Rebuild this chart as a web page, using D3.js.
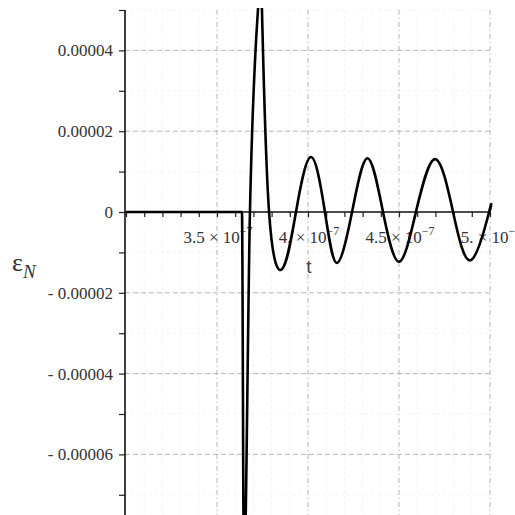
<!DOCTYPE html>
<html>
<head>
<meta charset="utf-8">
<script src="https://cdn.jsdelivr.net/npm/d3@7"></script>
<style>
  body { margin: 0; background: #fff; }
  svg { display: block; }
</style>
</head>
<body>
<svg></svg>
<script>
// time values (seconds) and strain values
let tValues = [3.0e-7, 3.637e-7, 3.648e-7, 3.681e-7, 3.725e-7, 3.736e-7, 3.747e-7, 3.786e-7,
  3.863e-7, 3.934e-7, 4.016e-7, 4.093e-7, 4.159e-7, 4.242e-7, 4.327e-7, 4.412e-7,
  4.500e-7, 4.593e-7, 4.698e-7, 4.797e-7, 4.896e-7, 4.995e-7, 5.0e-7]
let epsValues = [0, 0, -0.00009, 0, 0.00005, 0.000056, 0.00005, 0,
  -0.0000138, 0, 0.0000136, 0, -0.0000126, 0, 0.0000133, 0,
  -0.0000123, 0, 0.0000131, 0, -0.0000119, 0, 0.0000004]

// tick values and labels
let xTicks = [3.5e-7, 4.0e-7, 4.5e-7, 5.0e-7]
let xTickMantissa = ["3.5", "4.", "4.5", "5."]
let yTicks = [0.00004, 0.00002, 0, -0.00002, -0.00004, -0.00006]
let yTickLabels = ["0.00004", "0.00002", "0", "- 0.00002", "- 0.00004", "- 0.00006"]

let width = 515
let height = 515
let serif = "'Liberation Serif', 'Times New Roman', serif"

let svg = d3.select("svg")
  .attr("width", width)
  .attr("height", height)

let xScale = d3.scaleLinear()
  .domain([3e-7, 5e-7])
  .range([126, 490])

let yScale = d3.scaleLinear()
  .domain([-0.000075, 0.00005])
  .range([515, 10])

let axisX = 125
let axisY = yScale(0)

// minor grid (very faint)
let xMinor = d3.range(31, 51).map(d => d * 1e-8)
let yMinor = d3.range(-7, 6).map(d => d * 0.00001)

svg.append("g")
  .selectAll("line")
  .data(xMinor)
  .enter()
  .append("line")
  .attr("x1", d => xScale(d))
  .attr("x2", d => xScale(d))
  .attr("y1", 10)
  .attr("y2", height)
  .attr("stroke", "#f3f3f3")
  .attr("stroke-dasharray", "3,3")

svg.append("g")
  .selectAll("line")
  .data(yMinor)
  .enter()
  .append("line")
  .attr("x1", axisX)
  .attr("x2", 491)
  .attr("y1", d => yScale(d))
  .attr("y2", d => yScale(d))
  .attr("stroke", "#f3f3f3")
  .attr("stroke-dasharray", "3,3")

// major grid
svg.append("g")
  .selectAll("line")
  .data(xTicks)
  .enter()
  .append("line")
  .attr("x1", d => xScale(d))
  .attr("x2", d => xScale(d))
  .attr("y1", 10)
  .attr("y2", height)
  .attr("stroke", "#b8b8b8")
  .attr("stroke-dasharray", "5,3,1,3")

svg.append("g")
  .selectAll("line")
  .data(yTicks.filter(d => d != 0))
  .enter()
  .append("line")
  .attr("x1", axisX)
  .attr("x2", 491)
  .attr("y1", d => yScale(d))
  .attr("y2", d => yScale(d))
  .attr("stroke", "#b8b8b8")
  .attr("stroke-dasharray", "5,3")

// x axis
let xAxis = d3.axisBottom(xScale)
  .tickValues(xMinor.concat([3e-7]))
  .tickSize(5)
  .tickFormat("")

let gx = svg.append("g")
  .attr("transform", "translate(0," + axisY + ")")
  .call(xAxis)
gx.select(".domain").remove()
gx.selectAll("line").attr("stroke", "#222").attr("stroke-width", 1.2)

svg.append("line")
  .attr("x1", axisX)
  .attr("x2", 491)
  .attr("y1", axisY)
  .attr("y2", axisY)
  .attr("stroke", "#111")
  .attr("stroke-width", 1.6)

// y axis
let yAxis = d3.axisLeft(yScale)
  .tickValues(yMinor)
  .tickSize(6)
  .tickFormat("")

let gy = svg.append("g")
  .attr("transform", "translate(" + axisX + ",0)")
  .call(yAxis)
gy.select(".domain").remove()
gy.selectAll("line").attr("stroke", "#222").attr("stroke-width", 1.2)

svg.append("line")
  .attr("x1", axisX)
  .attr("x2", axisX)
  .attr("y1", 10)
  .attr("y2", height)
  .attr("stroke", "#111")
  .attr("stroke-width", 1.6)

// y tick labels
svg.append("g")
  .selectAll("text")
  .data(yTicks)
  .enter()
  .append("text")
  .attr("x", 113)
  .attr("y", d => yScale(d) + 6)
  .attr("text-anchor", "end")
  .style("font-family", serif)
  .style("font-size", "17px")
  .attr("fill", "#333")
  .text((d, i) => yTickLabels[i])

// x tick labels with superscript exponent
let xl = svg.append("g")
  .selectAll("text")
  .data(xTicks)
  .enter()
  .append("text")
  .attr("x", d => xScale(d) + 1)
  .attr("y", axisY + 31)
  .attr("text-anchor", "middle")
  .style("font-family", serif)
  .style("font-size", "17px")
  .attr("fill", "#333")

xl.append("tspan").text((d, i) => xTickMantissa[i] + " \u00d7 10")
xl.append("tspan")
  .attr("dy", -8)
  .style("font-size", "12px")
  .text("\u22127")

// axis titles
svg.append("text")
  .attr("x", 309)
  .attr("y", 273)
  .attr("text-anchor", "middle")
  .style("font-family", "'Liberation Sans', sans-serif")
  .style("font-size", "19px")
  .attr("fill", "#444")
  .text("t")

let yTitle = svg.append("text")
  .attr("x", 12)
  .attr("y", 271)
  .style("font-family", serif)
  .style("font-size", "26px")
  .attr("fill", "#333")
yTitle.append("tspan").text("\u03b5")
yTitle.append("tspan")
  .attr("dy", 7)
  .style("font-size", "19px")
  .style("font-style", "italic")
  .text("N")

// curve
svg.append("clipPath")
  .attr("id", "plotClip")
  .append("rect")
  .attr("x", axisX)
  .attr("y", 8)
  .attr("width", 370)
  .attr("height", height - 8)

let points = tValues.map((t, i) => [t, epsValues[i]])

// sharp pulse with a monotone curve, ringing with a natural spline; they join at the clipped peak
let pulseLine = d3.line()
  .x(d => xScale(d[0]))
  .y(d => yScale(d[1]))
  .curve(d3.curveMonotoneX)

let ringLine = d3.line()
  .x(d => xScale(d[0]))
  .y(d => yScale(d[1]))
  .curve(d3.curveNatural)

let curveG = svg.append("g").attr("clip-path", "url(#plotClip)")

curveG.append("path")
  .datum(points.slice(0, 6))
  .attr("d", pulseLine)
  .attr("fill", "none")
  .attr("stroke", "#000")
  .attr("stroke-width", 2.6)
  .attr("stroke-linejoin", "round")

curveG.append("path")
  .datum(points.slice(5))
  .attr("d", ringLine)
  .attr("fill", "none")
  .attr("stroke", "#000")
  .attr("stroke-width", 2.6)
  .attr("stroke-linejoin", "round")
</script>
</body>
</html>
